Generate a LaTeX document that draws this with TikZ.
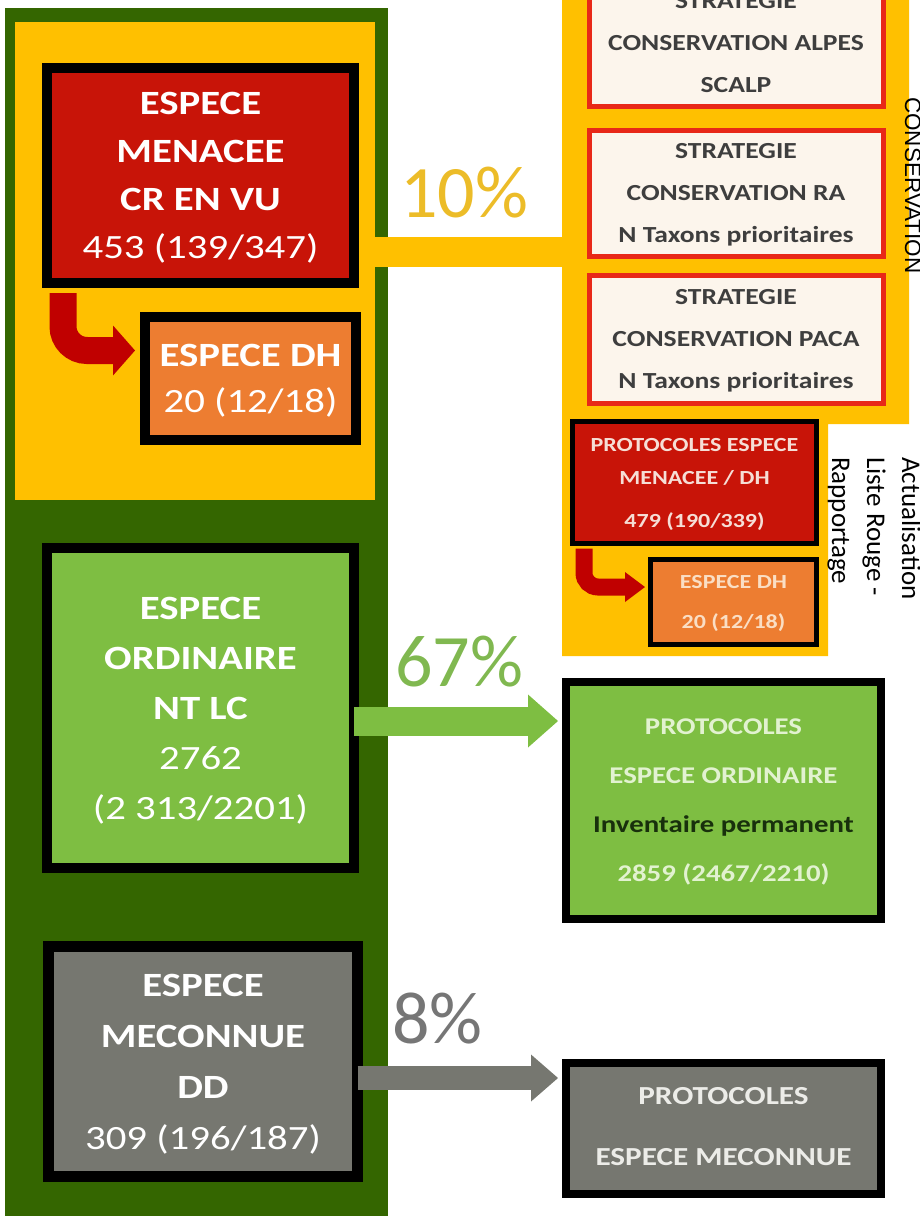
\documentclass[tikz,border=0pt]{standalone}
\usepackage{fontspec}
\setmainfont{Carlito}[FakeStretch=1.2]
\newfontfamily\pctfont{Carlito}
\newfontfamily\arialfont{Liberation Sans}
\usetikzlibrary{arrows.meta}
\usetikzlibrary{calc}
\usetikzlibrary{positioning}

\definecolor{rimgreen}{RGB}{52,102,0}
\definecolor{gold}{RGB}{255,192,0}
\definecolor{menred}{RGB}{200,20,8}
\definecolor{dhorange}{RGB}{237,125,49}
\definecolor{ordgreen}{RGB}{126,190,66}
\definecolor{dkgray}{RGB}{118,119,112}
\definecolor{cream}{RGB}{252,245,236}
\definecolor{arrowred}{RGB}{192,0,0}
\definecolor{pctgold}{RGB}{236,188,40}
\definecolor{pctgreen}{RGB}{128,184,80}
\definecolor{pctgray}{RGB}{118,118,118}
\definecolor{stratred}{RGB}{232,40,24}
\definecolor{strattext}{RGB}{62,62,62}
\definecolor{palegreen}{RGB}{226,242,208}
\definecolor{palepink}{RGB}{246,222,214}
\definecolor{paleorange}{RGB}{250,222,196}
\definecolor{palegray}{RGB}{236,236,232}
\definecolor{invgreen}{RGB}{24,48,12}

\begin{document}
\begin{tikzpicture}[
  x=1pt, y=-1pt,
  box/.style = {draw=black, inner sep=0pt, align=center, text=white, text depth=0pt},
  stratbox/.style = {draw=stratred, line width=5pt, fill=cream, minimum width=294pt, inner sep=0pt,
    align=center, text=strattext, text depth=-8pt, font=\fontsize{23}{42}\selectfont\bfseries},
  pct/.style = {anchor=base west, inner sep=0pt, font=\pctfont\fontsize{74}{80}\selectfont},
  block/.style 2 args = {-{Triangle[length=#1,width=#2,line width=0pt]}}
  ]
  \useasboundingbox (0,0) rectangle (920,1216);
  \clip (0,0) rectangle (920,1216);

  \node[fill=rimgreen, minimum width=383pt, minimum height=1212pt, inner sep=0pt] (rim) at (196.5,614) {};
  \node[fill=gold, minimum width=360pt, minimum height=478pt, inner sep=0pt] (yframe) at (195,261) {};

  \coordinate (@bar) at (563,252);
  \draw[gold, line width=30pt] (yframe.east |- @bar) -- (@bar);
  \fill[gold] (562,-5) -- (909,-5) -- (909,424) -- (828,424) -- (828,656) -- (562,656) -- cycle;

  \node[stratbox, minimum height=126pt] (alpes) at (736,43) {STRATEGIE\\CONSERVATION ALPES\\SCALP};
  \node[stratbox, minimum height=126pt] (ra) at (736,193) {STRATEGIE\\CONSERVATION RA\\N Taxons prioritaires};
  \node[stratbox, minimum height=128pt] (paca) at (736,339) {STRATEGIE\\CONSERVATION PACA\\N Taxons prioritaires};

  \node[box, line width=5pt, fill=menred, text=palepink, minimum width=244pt, minimum height=122pt, text depth=-6pt,
    font=\fontsize{20}{33}\selectfont\bfseries] (protmen) at (694.5,482.5) {PROTOCOLES ESPECE\\MENACEE / DH\\[10pt]479 (190/339)};
  \node[box, line width=5pt, fill=dhorange, text=paleorange, minimum width=166pt, minimum height=85pt,
    font=\fontsize{20}{40}\selectfont\bfseries] (protdh) at (733.5,602) {ESPECE DH\\20 (12/18)};

  \node[box, line width=10pt, fill=menred, minimum width=307pt, minimum height=215pt,
    font=\fontsize{34}{48}\selectfont\bfseries] (menacee) at (200.5,175.5) {ESPECE\\MENACEE\\CR EN VU\\{\mdseries 453 (139/347)}};
  \node[box, line width=10pt, fill=dhorange, minimum width=211pt, minimum height=123pt,
    font=\fontsize{34}{46}\selectfont\bfseries] (dh) at (250.5,378.5) {ESPECE DH\\{\mdseries 20 (12/18)}};
  \node[box, line width=10pt, fill=ordgreen, minimum width=307pt, minimum height=320pt, text depth=-4pt,
    font=\fontsize{34}{50}\selectfont\bfseries] (ordinaire) at (200.5,708) {ESPECE\\ORDINAIRE\\NT LC\\{\mdseries 2762}\\{\mdseries (2 313/2201)}};
  \node[box, line width=11pt, fill=dkgray, minimum width=309pt, minimum height=230pt,
    font=\fontsize{34}{51}\selectfont\bfseries] (meconnue) at (203,1061.5) {ESPECE\\MECONNUE\\DD\\{\mdseries 309 (196/187)}};

  \node[box, line width=8pt, fill=ordgreen, text=palegreen, minimum width=315pt, minimum height=237pt, text depth=-8pt,
    font=\fontsize{24}{49}\selectfont\bfseries] (ordprot) at (723.5,800.5) {PROTOCOLES\\ESPECE ORDINAIRE\\\textcolor{invgreen}{Inventaire permanent}\\2859 (2467/2210)};
  \node[box, line width=8pt, fill=dkgray, text=palegray, minimum width=315pt, minimum height=131pt, text depth=4pt,
    font=\fontsize{26}{61}\selectfont\bfseries] (mecprot) at (723.5,1128.5) {PROTOCOLES\\ESPECE MECONNUE};

  \node[pct, text=pctgold] (p10) at (400,217) {10\%};
  \node[pct, text=pctgreen] (p67) at (395,686) {67\%};
  \node[pct, text=pctgray] (p8) at (392,1043) {8\%};

  \node[rotate=-90, anchor=base west, inner sep=0pt, font=\arialfont\fontsize{22.5}{27}\selectfont] (cons) at (905,97) {CONSERVATION};
  \node[rotate=-90, anchor=north west, inner sep=0pt, align=left, font=\pctfont\fontsize{27}{35}\selectfont] (actu) at (921,457) {Actualisation\\Liste Rouge -\\Rapportage};

  \coordinate (@g) at (0,721);
  \coordinate (@m) at (0,1078);
  \draw[arrowred, line width=27pt, rounded corners=24pt, block={22pt}{50pt}] ($(menacee.south west)+(21,5)$) |- ($(dh.west)+(-5,-28)$);
  \draw[arrowred, line width=17pt, rounded corners=14pt, block={20pt}{30pt}] ($(protmen.south west)+(14,2.5)$) |- ($(protdh.west)+(-3,-15)$);
  \draw[ordgreen, line width=29pt, block={30pt}{53pt}] ($(ordinaire.east |- @g)+(-5,0)$) -- ($(ordprot.west |- @g)+(-4,0)$);
  \draw[dkgray, line width=24pt, block={27pt}{47pt}] ($(meconnue.east |- @m)+(-5.5,0)$) -- ($(mecprot.west |- @m)+(-4,0)$);

\end{tikzpicture}
\end{document}
